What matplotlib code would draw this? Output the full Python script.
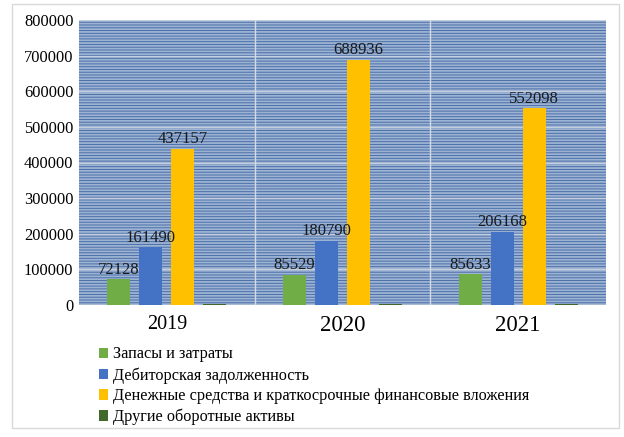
import numpy as np
import matplotlib.pyplot as plt
from matplotlib.patches import Rectangle

plt.rcParams['font.family'] = ['Liberation Serif', 'DejaVu Serif']
plt.rcParams['hatch.linewidth'] = 1.3

years = ['2019', '2020', '2021']
series = ['Запасы и затраты',
          'Дебиторская задолженность',
          'Денежные средства и краткосрочные финансовые вложения',
          'Другие оборотные активы']
stocks = [72128, 85529, 85633]
receivables = [161490, 180790, 206168]
cash = [437157, 688936, 552098]
other = [2500, 2100, 2300]
colors = ['#70ad47', '#4472c4', '#ffc000', '#43682b']

values = [stocks, receivables, cash, other]
show_label = [True, True, True, False]

fig = plt.figure(figsize=(6.24, 4.37), dpi=100)
ax = fig.add_axes([79/624, 132/437, 527/624, 285/437])

# striped background
ax.set_facecolor('#4a6fa8')
ax.add_patch(Rectangle((0, 0), 1, 1, transform=ax.transAxes, facecolor='#4a6fa8',
                       edgecolor='#9db3d3', hatch='------', linewidth=0, zorder=0))

x = np.arange(len(years))
step = 0.182
width = 0.131
for i, (vals, c) in enumerate(zip(values, colors)):
    pos = x + (i - 1.5) * step
    bars = ax.bar(pos, vals, width, color=c, label=series[i], zorder=3)
    if show_label[i]:
        for p, v in zip(pos, vals):
            ax.text(p, v + 5000, str(v), ha='center', va='bottom',
                    fontsize=12, color='#1a1a1a', zorder=4)

ax.set_xlim(-0.5, 2.5)
ax.set_ylim(0, 800000)
ax.set_yticks(np.arange(0, 800001, 100000))
ax.set_yticklabels([str(v) for v in range(0, 800001, 100000)], fontsize=11.8)
ax.set_xticks(x)
ax.set_xticklabels([])
for xi, yr in zip(x, years):
    ax.text(xi, -0.035, yr, transform=ax.get_xaxis_transform(), ha='center',
            va='top', fontsize=16.5 if yr != '2019' else 14.5)
ax.tick_params(length=0, pad=4)
for yv in range(100000, 800001, 100000):
    ax.axhline(yv, color='#c3cede', linewidth=1.0, zorder=1)
for xv in [0.5, 1.5]:
    ax.axvline(xv, color='#d4dbe6', linewidth=1.0, zorder=1)
for s in ax.spines.values():
    s.set_visible(False)
ax.axhline(0, color='#d9d9d9', linewidth=1.0, zorder=2)

fig.legend(loc='upper left', bbox_to_anchor=(92/624, 1 - 340/437), frameon=False,
           fontsize=11.7, handlelength=0.6, handleheight=0.6, handletextpad=0.3,
           labelspacing=0.28, borderaxespad=0)

# outer frame
fig.add_artist(Rectangle((12/624, 1 - 428/437), 607/624, 424/437, transform=fig.transFigure,
                         fill=False, edgecolor='#d9d9d9', linewidth=1.0))

fig.savefig('out.png', dpi=100)
plt.close()
